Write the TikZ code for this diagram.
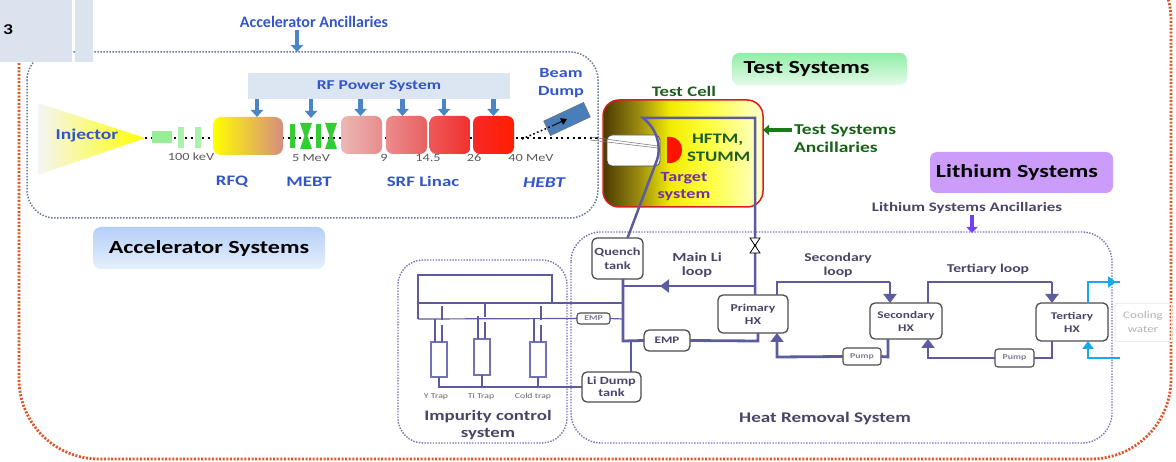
\documentclass[tikz,border=0pt]{standalone}
\usepackage{fontspec}
\setmainfont{Carlito}[FakeStretch=1.3]
\newfontfamily\plainfont{Carlito}
\usetikzlibrary{arrows.meta,calc}

\definecolor{accblue}{HTML}{3355CC}
\definecolor{steel}{HTML}{4A86C6}
\definecolor{pipec}{HTML}{5B5B9E}
\definecolor{darkslate}{HTML}{4A4466}
\definecolor{redborder}{HTML}{E0542A}
\definecolor{greyblue}{HTML}{6A7A98}
\definecolor{loopdot}{HTML}{7272B4}
\definecolor{tgreen}{HTML}{1E5E1E}
\definecolor{agreen}{HTML}{1A7A1A}
\definecolor{tpurple}{HTML}{7030A0}
\definecolor{cyanw}{HTML}{18A8EC}
\definecolor{lavender}{HTML}{CC9CFA}
\definecolor{panel}{HTML}{DBE3EF}
\definecolor{rfpanel}{HTML}{DCE6F2}
\definecolor{mebtgreen}{HTML}{33CC33}
\definecolor{lebtgreen}{HTML}{96EE96}
\definecolor{dumpblue}{HTML}{4A7EBB}
\definecolor{lipurple}{HTML}{7040F0}
\definecolor{cellA}{HTML}{4A3A00}
\definecolor{cellB}{HTML}{9A8A10}
\definecolor{cellC}{HTML}{F2EC00}
\definecolor{cellD}{HTML}{FFFF40}
\definecolor{cellE}{HTML}{FFFFD0}

% test cell interior: dark shielding on the left, bright yellow towards the target
\pgfdeclarehorizontalshading{cellshade}{100bp}{color(0bp)=(cellA); color(25bp)=(cellA);
  color(36bp)=(cellB); color(46bp)=(cellC); color(58bp)=(cellD); color(75bp)=(cellE); color(100bp)=(cellE)}

\newcommand\fsz[2]{\fontsize{#1}{#2}\selectfont}

\tikzset{
  feed/.style={draw=steel, line width=4.5pt, -{Triangle[width=12pt,length=7pt]}},
  pipe/.style={draw=pipec, line width=2.8pt},
  pipeflow/.style={pipe, -{Triangle[width=13pt,length=9pt]}},
  thinpipe/.style={draw=pipec, line width=1.2pt},
  hxbox/.style={draw=black!70, line width=1.3pt, rounded corners=5pt, fill=white,
    align=center, text=darkslate, font=\fsz{10.5}{13}\bfseries},
  smallbox/.style={draw=black!70, line width=1.1pt, rounded corners=3pt, fill=white,
    text=darkslate!70, font=\fsz{7.5}{8}\bfseries},
  trapbox/.style={draw=loopdot, line width=1.1pt, fill=white, minimum width=16pt},
  region/.style={draw=loopdot, line width=1.4pt, dash pattern=on 1.4pt off 1.4pt},
  accregion/.style={draw=greyblue, line width=1.5pt, dash pattern=on 1.5pt off 1.5pt},
  outerbox/.style={draw=redborder, line width=2.8pt, dash pattern=on 2pt off 1.6pt},
  beam/.style={draw=black, line width=2.2pt, dash pattern=on 2.2pt off 3.5pt},
  cav/.style={rounded corners=7pt, minimum width=41pt, minimum height=38pt},
  energy/.style={text=black!65, font=\fsz{11}{11}},
  bluelbl/.style={text=accblue, font=\fsz{14.5}{14.5}\bfseries},
  hrtext/.style={text=darkslate, font=\fsz{12}{14}\bfseries, align=center},
}

\begin{document}
\begin{tikzpicture}[x=1pt, y=-1pt, every node/.style={inner sep=0pt, outer sep=0pt}]
\useasboundingbox (0,0) rectangle (1176,462);

% facility boundary
\begin{scope}
  \clip (0,0) rectangle (1176,462);
  \draw[outerbox, rounded corners=80pt] (19,-60) rectangle (1171,459);
\end{scope}

% accelerator region
\draw[accregion, rounded corners=28pt] (27,52) rectangle (598,218);

% corner panels
\fill[panel] (0,0) rectangle (72,62);
\fill[panel] (75,0) rectangle (93,62);
\node[font=\fsz{15}{15}\bfseries, anchor=west] (num) at (3,30) {3};

% accelerator ancillaries
\node[text=accblue, font=\plainfont\fsz{16}{16}\bfseries] (accanc) at (314,22) {Accelerator Ancillaries};
\coordinate (acctop) at (297,52);
\draw[feed] (accanc.south -| acctop) ++(0,2) -- (acctop);

% RF power system
\node[fill=rfpanel, minimum width=262pt, minimum height=26pt, text=accblue,
      font=\fsz{13.5}{13.5}\bfseries] (rf) at (379,86) {RF Power System};

% beam line
\draw[beam] (128,138) -- (600,138);

% injector
\shade[left color=gray!8, middle color=gray!50, right color=yellow] (38,103) -- (145,138) -- (38,175) -- cycle;
\node[text=accblue, font=\fsz{15}{15}\bfseries] (inj) at (87,136) {Injector};

% LEBT
\node[fill=lebtgreen, minimum width=20pt, minimum height=12pt] (lebt) at (162,137) {};
\node[fill=lebtgreen!80, minimum width=6pt, minimum height=21pt] (sol1) at (181,138) {};
\node[fill=lebtgreen!80, minimum width=6pt, minimum height=21pt] (sol2) at (198,138) {};

% RFQ
\node[rounded corners=8pt, minimum width=70pt, minimum height=38pt,
      left color=yellow, middle color=orange!85!yellow, right color={rgb,255:red,214;green,140;blue,128}] (rfq) at (248,136) {};

% MEBT
\fill[mebtgreen] (290,124) rectangle (295,148);
\fill[mebtgreen] (300,123) -- (312,123) -- (307.5,136) -- (312,149) -- (300,149) -- (304.5,136) -- cycle;
\fill[mebtgreen] (316,124) rectangle (321,148);
\fill[mebtgreen] (325,123) -- (337,123) -- (332.5,136) -- (337,149) -- (325,149) -- (329.5,136) -- cycle;
\coordinate (mebt) at (311,118);

% SRF linac cavities
\node[cav, left color={rgb,255:red,236;green,184;blue,180}, right color={rgb,255:red,232;green,140;blue,140}] (c1) at (361.5,135) {};
\node[cav, left color={rgb,255:red,236;green,140;blue,140}, right color={rgb,255:red,232;green,96;blue,96}] (c2) at (406.5,135) {};
\node[cav, left color={rgb,255:red,238;green,88;blue,88}, right color={rgb,255:red,240;green,48;blue,48}] (c3) at (450,135) {};
\node[cav, left color={rgb,255:red,250;green,40;blue,40}, right color={rgb,255:red,255;green,30;blue,0}] (c4) at (493.5,135) {};

% RF feeds
\draw[feed] ($(rf.south -| rfq.north)+(9,0)$) -- ($(rfq.north)+(9,0)$);
\draw[feed] (rf.south -| mebt) -- (mebt);
\draw[feed] ($(rf.south -| c1.north)+(-1,0)$) -- ($(c1.north)+(-1,0)$);
\draw[feed] ($(rf.south -| c2.north)+(-4,0)$) -- ($(c2.north)+(-4,0)$);
\draw[feed] ($(rf.south -| c3.north)+(-6,0)$) -- ($(c3.north)+(-6,0)$);
\draw[feed] (rf.south -| c4.north) -- (c4.north);

% energies
\node[energy] (e1) at (191,157) {100 keV};
\node[energy] (e2) at (311,158) {5 MeV};
\node[energy] (e3) at (384,158) {9};
\node[energy] (e4) at (428,158) {14.5};
\node[energy] (e5) at (474,158) {26};
\node[energy] (e6) at (531,158) {40 MeV};

% section names
\node[bluelbl] (lrfq) at (232,182) {RFQ};
\node[bluelbl] (lmebt) at (309,182) {MEBT};
\node[bluelbl] (lsrf) at (423,181) {SRF Linac};
\node[bluelbl, font=\fsz{15}{15}\bfseries\itshape] (lhebt) at (544,183) {HEBT};

% beam dump
\node[draw=black!55, line width=0.6pt, fill=dumpblue, minimum width=44pt, minimum height=16pt, rotate=25] (dump) at (567,119) {};
\node[text=accblue, font=\fsz{14}{18}\bfseries, align=center] (ldump) at (561,83) {Beam\\Dump};
\draw[beam, line width=1.6pt, dash pattern=on 1.6pt off 2.5pt] (522,139) -- (552,126);
\draw[black, line width=1pt, -{Triangle[width=7pt,length=6pt]}] (552,126) -- (dump.center);

% test systems banner
\node[rounded corners=7pt, minimum width=175pt, minimum height=32pt,
      top color={rgb,255:red,144;green,238;blue,168}, bottom color={rgb,255:red,228;green,250;blue,232},
      font=\fsz{18.5}{18.5}\bfseries] (tsys) at (819.5,69) {\hspace*{-26pt}Test Systems};

% test cell
\node[draw={rgb,255:red,212;green,32;blue,32}, line width=1.5pt, rounded corners=16pt,
      minimum width=160pt, minimum height=107pt, shading=cellshade] (cell) at (683,153.5) {};
\node[text=tgreen, font=\fsz{14.5}{14.5}\bfseries] (lcell) at (684,91) {Test Cell};

% beam port into the cell
\node[draw=black!70, line width=0.8pt, fill=white, rounded corners=5pt, minimum width=53pt, minimum height=31pt] (port) at (633.5,150.5) {};
\draw[gray, line width=0.6pt] (590,137) -- (658,146);
\draw[gray, line width=0.6pt] (590,140) -- (658,148);

% target
\fill[red!85!orange] (667,137) -- (670,137) .. controls (686,137) and (686,163) .. (670,163) -- (667,163) -- cycle;
\node[text=tgreen, font=\fsz{14.5}{18}\bfseries, align=left, anchor=west] (hftm) at (687,148) {\hspace*{5pt}HFTM,\\STUMM};
\node[text=tpurple, font=\fsz{14}{17}\bfseries, align=center] (ltarget) at (684,187) {Target\\system};

% test systems ancillaries
\node[text=agreen!80!black, font=\fsz{15}{18}\bfseries, align=left, anchor=west] (tanc) at (794,139) {Test Systems\\Ancillaries};
\draw[draw=agreen, line width=3.5pt, -{Triangle[width=10pt,length=6pt]}] (tanc.west |- 0,130) ++(-2,0) -- (cell.east |- 0,130);

% lithium systems
\node[rounded corners=7pt, fill=lavender, minimum width=183pt, minimum height=41pt,
      font=\fsz{18.5}{18.5}\bfseries] (lisys) at (1021.5,172.5) {\hspace*{-9pt}Lithium Systems};
\node[text=darkslate, font=\fsz{13}{13}\bfseries] (lanc) at (967,208) {Lithium Systems Ancillaries};
\coordinate (litop) at (972,233);
\draw[draw=lipurple, line width=4pt, -{Triangle[width=11pt,length=6pt]}] (lanc.south -| litop) ++(0,1) -- (litop);

% accelerator systems banner
\node[rounded corners=8pt, minimum width=232pt, minimum height=42pt,
      top color={rgb,255:red,180;green,208;blue,248}, bottom color={rgb,255:red,230;green,239;blue,252},
      font=\fsz{18.5}{18.5}\bfseries] (asys) at (209,248) {Accelerator Systems};

% impurity control and heat removal regions
\draw[region, rounded corners=25pt] (398,260) rectangle (567,443);
\draw[region, rounded corners=30pt] (571,232) rectangle (1112,443);

% heat removal components
\node[hxbox, minimum width=51pt, minimum height=41pt, font=\fsz{11}{14}\bfseries] (quench) at (617.5,258.5) {Quench\\tank};
\node[hxbox, minimum width=70pt, minimum height=38pt] (phx) at (753,314) {Primary\\HX};
\node[hxbox, minimum width=46pt, minimum height=21pt, font=\fsz{10}{10}\bfseries] (emp) at (667,340.5) {EMP};
\node[hxbox, minimum width=59pt, minimum height=30pt, font=\fsz{11}{12}\bfseries] (lidump) at (611.5,387) {Li Dump\\tank};
\node[smallbox, minimum width=33pt, minimum height=11pt] (emps) at (593.5,318.5) {EMP};
\node[hxbox, minimum width=72pt, minimum height=36pt, font=\fsz{10.2}{13}\bfseries] (shx) at (906,321) {Secondary\\HX};
\node[hxbox, minimum width=72pt, minimum height=38pt, font=\fsz{10.2}{13}\bfseries] (thx) at (1072,322) {Tertiary\\HX};
\node[smallbox, minimum width=38pt, minimum height=17pt] (pump1) at (862,356.5) {Pump};
\node[smallbox, minimum width=39pt, minimum height=18pt] (pump2) at (1014.5,358) {Pump};

% target loop through the test cell
\draw[pipe, line width=2.5pt] ($(quench.north)+(10,0)$) -- (657,160) .. controls (662,145) and (656,128) .. (643,118) -- (755,118) -- (755,295);
\draw[black, line width=0.8pt, fill=white] (750,238) -- (760,238) -- (750,253) -- (760,253) -- cycle;

% main Li loop
\coordinate (mlr) at (755,286);
\coordinate (mll) at (623,286);
\draw[pipeflow] (mlr) -- (660,286);
\draw[pipe] (662,286) -- (mll);
\draw[pipe] (quench.south -| mll) -- (623,341) -- (emp.west);
\draw[pipe] (emp.east) -- (758,341) -- (758,333);
\draw[pipe] (631,341) -- (lidump.north -| 631,0);

% impurity control lines
\draw[thinpipe] (418,319) -- (418,275) -- (552,275) -- (552,303);
\draw[thinpipe] (418,303) -- (623,303);
\draw[thinpipe] (418,319) -- (emps.west);
\draw[thinpipe] (emps.east) -- (623,319);
\draw[thinpipe] (438,387) -- (lidump.west |- 0,387);

\node[trapbox, minimum height=35pt] (ty) at (439,359.5) {};
\node[trapbox, minimum height=36pt] (tti) at (482,357) {};
\node[trapbox, minimum height=35pt] (tcold) at (538,359.5) {};
\foreach \t in {ty,tti,tcold}{
  \draw[thinpipe] ($(\t.north)+(-4,0)$) -- ++(0,-23);
  \draw[thinpipe] ($(\t.north)+(3,0)$) -- ++(0,-17);
  \draw[thinpipe] ($(\t.north)+(3,-22)$) -- ++(0,-14);
  \draw[thinpipe] (\t.south) -- (\t.south |- 0,387);
}
\node[text=black!60, font=\fsz{7.5}{7.5}] (lty) at (436,397) {Y Trap};
\node[text=black!60, font=\fsz{7.5}{7.5}] (ltti) at (481,397) {Ti Trap};
\node[text=black!60, font=\fsz{7.5}{7.5}] (ltc) at (533,397) {Cold trap};
\node[text=darkslate, font=\fsz{14.5}{17}\bfseries, align=center] (limp) at (488,425) {Impurity control\\system};

% secondary loop
\draw[pipe] (phx.north -| 777,0) -- (777,282) -- (890,282);
\draw[pipeflow] (890,282) -- (shx.north -| 890,0);
\draw[pipe] (shx.south -| 888,0) -- (888,357) -- (pump1.east);
\draw[pipeflow] (pump1.west) -- (777,357) -- (phx.south -| 777,0);

% tertiary loop
\draw[pipe] (shx.north -| 928,0) -- (928,282) -- (1052,282);
\draw[pipeflow] (1052,282) -- (thx.north -| 1052,0);
\draw[pipe] (thx.south -| 1052,0) -- (1052,358) -- (pump2.east);
\draw[pipeflow] (pump2.west) -- (928,358) -- (shx.south -| 928,0);

% cooling water
\node[draw=gray!15, minimum width=56pt, minimum height=38pt, text=gray!60,
      font=\fsz{10}{14}, align=center] (cw) at (1143,322) {Cooling\\water};
\draw[draw=cyanw, line width=2.6pt, -{Triangle[width=11pt,length=8pt]}] (thx.north -| 1088,0) -- (1088,282) -- (1116,282);
\draw[draw=cyanw, line width=2.6pt] (1114,282) -- (1120,282);
\draw[draw=cyanw, line width=2.6pt, -{Triangle[width=11pt,length=8pt]}] (1120,358) -- (1088,358) -- (thx.south -| 1088,0);

% loop labels
\node[hrtext, font=\fsz{12.5}{14}\bfseries] (lmain) at (697,265) {Main Li\\loop};
\node[hrtext] (lsec) at (838,265) {Secondary\\loop};
\node[hrtext] (lter) at (988,269) {Tertiary loop};
\node[text=darkslate, font=\fsz{14.7}{14.7}\bfseries] (lhrs) at (825,418) {Heat Removal System};

\end{tikzpicture}
\end{document}
